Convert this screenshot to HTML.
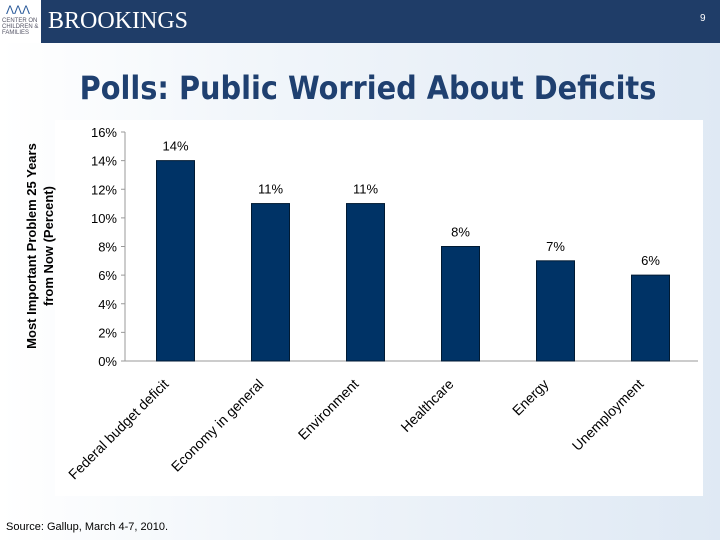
<!DOCTYPE html>
<html><head><meta charset="utf-8"><style>
body{margin:0;width:720px;height:540px;overflow:hidden;font-family:"Liberation Sans",sans-serif;}
#page{position:relative;width:720px;height:540px;background:linear-gradient(90deg,#ffffff 0%,#f3f7fb 30%,#dfe9f4 100%);}
#hdr{position:absolute;left:0;top:0;width:720px;height:43px;background:#1f3d68;}
</style></head><body>
<div id="page">
<div id="hdr">
 <div style="position:absolute;left:0;top:0;width:41px;height:43px;background:#fff;font-size:6px;color:#556;line-height:6px;">
  <div style="color:#2a5a9a;font-size:12px;line-height:16px;padding-left:6px;padding-top:2px">ΛΛΛ</div>
  <div style="padding-left:2px">CENTER ON<br>CHILDREN &amp;<br>FAMILIES</div></div>
 <div style="position:absolute;left:48px;top:8px;color:#fff;font-family:'Liberation Serif',serif;font-size:24px;">BROOKINGS</div>
 <div style="position:absolute;left:700px;top:13px;color:#fff;font-size:10px;">9</div>
</div>
<div style="position:absolute;left:0;width:736px;top:69px;text-align:center;font-size:32px;font-weight:bold;color:#1f4070;font-family:'DejaVu Sans Condensed','DejaVu Sans',sans-serif;">Polls: Public Worried About Deficits</div>
<svg id="chart" width="720" height="540" style="position:absolute;left:0;top:0"></svg>
<div style="position:absolute;left:6px;top:521px;font-size:11px;color:#000;">Source: Gallup, March 4-7, 2010.</div>
</div>
<script>
const categories=["Federal budget deficit","Economy in general","Environment","Healthcare","Energy","Unemployment"];
const values=[14,11,11,8,7,6];
const ticks=[0,2,4,6,8,10,12,14,16];
const NS="http://www.w3.org/2000/svg";
const svg=document.getElementById('chart');
function mk(t,a,p){const e=document.createElementNS(NS,t);for(const k in a)e.setAttribute(k,a[k]);(p||svg).appendChild(e);return e;}
const x0=128,step=95,y0=361,yTop=132,yMax=16;
const y=v=>y0-(v/yMax)*(y0-yTop);
const xc=i=>x0+step*(i+0.5);
const bg=mk('rect',{x:55,y:120,width:648,height:376,fill:'#fff'});


const yl=mk('line',{x1:125,y1:yTop,x2:125,y2:y0,stroke:'#999'});


const xl=mk('line',{x1:125,y1:y0,x2:x0+step*categories.length,y2:y0,stroke:'#999'});


ticks.forEach(t=>{
 const tk=mk('line',{x1:121,y1:y(t),x2:125,y2:y(t),stroke:'#999'});
 
 
 const tl=mk('text',{x:117,y:y(t)+5,'text-anchor':'end','font-size':13,fill:'#000'});
 tl.textContent=t+'%';
 
 
});
values.forEach((v,i)=>{
 const b=mk('rect',{x:xc(i)-19,y:y(v),width:38,height:y0-y(v),fill:'#003366',stroke:'#001a33','stroke-width':1});
 
 
 const vl=mk('text',{x:xc(i),y:y(v)-10,'text-anchor':'middle','font-size':13,fill:'#000'});
 vl.textContent=v+'%';
 
 
 const cx=xc(i)-6,cy=y0+24;
 const cl=mk('text',{x:cx,y:cy,'text-anchor':'end','font-size':14,fill:'#000',transform:`rotate(-45 ${cx} ${cy})`});
 cl.textContent=categories[i];
 
 
});
const yt=mk('text',{'text-anchor':'middle','font-size':13,'font-weight':'bold',fill:'#000',transform:'translate(36,246) rotate(-90)'});


const t1=mk('tspan',{x:0,dy:0},yt);t1.textContent='Most Important Problem 25 Years';
const t2=mk('tspan',{x:0,dy:17},yt);t2.textContent='from Now (Percent)';
</script>
</body></html>
